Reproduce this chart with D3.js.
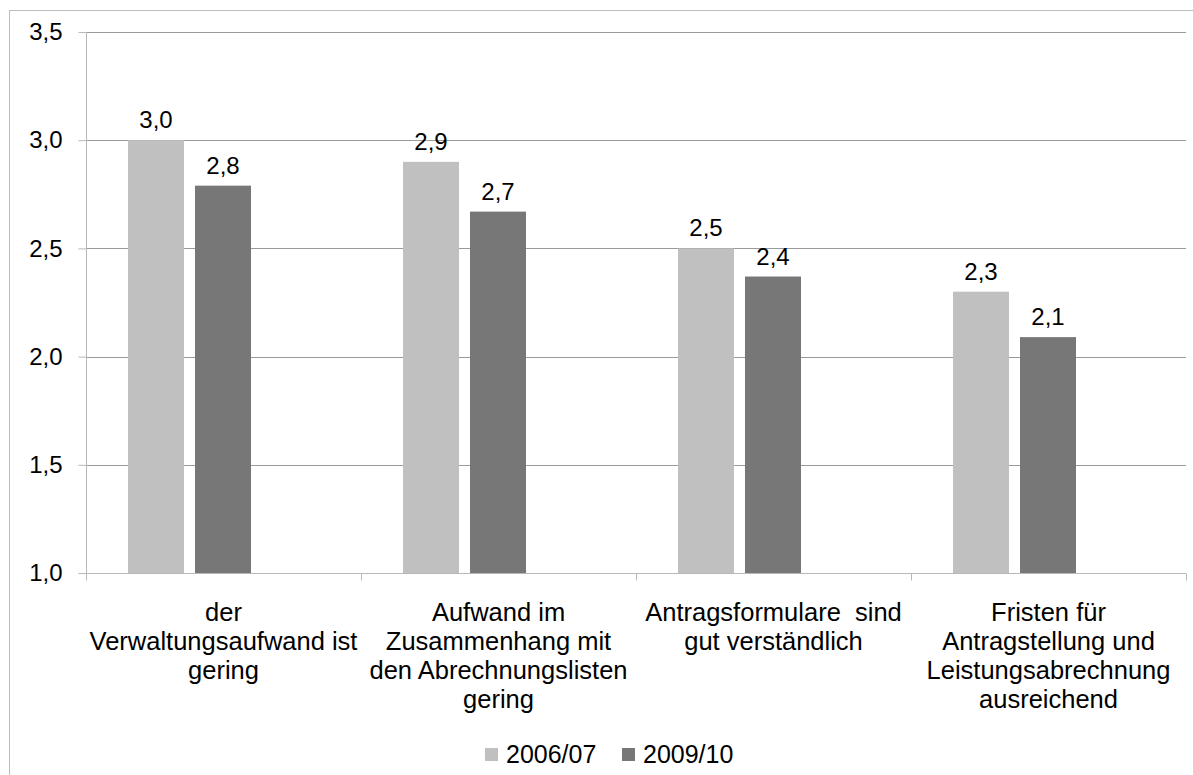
<!DOCTYPE html>
<html>
<head>
<meta charset="utf-8">
<script src="https://cdn.jsdelivr.net/npm/d3@7"></script>
<style>
  body { margin: 0; background: #fff; }
  svg { font-family: "Liberation Sans", Arial, sans-serif; }
</style>
</head>
<body>
<div id="chart"></div>
<script>
// chart data
var categories = ["cat1", "cat2", "cat3", "cat4"];
var categoryLines = [
    ["der", "Verwaltungsaufwand ist", "gering"],
    ["Aufwand im", "Zusammenhang mit", "den Abrechnungslisten", "gering"],
    ["Antragsformulare  sind", "gut verständlich"],
    ["Fristen für", "Antragstellung und", "Leistungsabrechnung", "ausreichend"]
];
var seriesNames = ["2006/07", "2009/10"];
var values2006 = [3.00, 2.90, 2.50, 2.30];
var values2009 = [2.79, 2.67, 2.37, 2.09];
var yTicks = [1.0, 1.5, 2.0, 2.5, 3.0, 3.5];
var colors = ["#c0c0c0", "#777777"];

var width = 1193, height = 775;
var margin = {top: 32, right: 7, bottom: 202, left: 86};
var plotW = width - margin.left - margin.right;
var plotH = height - margin.top - margin.bottom;

var svg = d3.select("#chart").append("svg")
    .attr("width", width)
    .attr("height", height);

// outer frame
svg.append("rect")
    .attr("x", 9.5).attr("y", 10.5)
    .attr("width", width + 10).attr("height", height + 10)
    .attr("fill", "none")
    .attr("stroke", "#bdbdbd");

var g = svg.append("g")
    .attr("transform", "translate(" + margin.left + "," + margin.top + ")");

var x = d3.scaleBand().domain(categories).range([0, plotW]).padding(0);
// three slots per group as in the source, the last one stays empty
var x1 = d3.scaleBand().domain(seriesNames.concat(["_"]))
    .range([42, x.bandwidth() - 43])
    .paddingInner(0.164).paddingOuter(0);
var y = d3.scaleLinear().domain([1, 3.5]).range([plotH, 0]);

var fmt = function(v) { return d3.format(".1f")(v).replace(".", ","); };

// gridlines
g.append("g").selectAll("line")
    .data(yTicks.slice(1))
    .join("line")
    .attr("x1", 0).attr("x2", plotW)
    .attr("y1", d => Math.round(y(d)) + 0.5).attr("y2", d => Math.round(y(d)) + 0.5)
    .attr("stroke", "#9a9a9a");

// y axis
var yAxis = d3.axisLeft(y).tickValues(yTicks).tickSize(8).tickPadding(16).tickFormat(fmt);
var yg = g.append("g").attr("transform", "translate(0.5,0)").call(yAxis);
yg.select(".domain").attr("stroke", "#b8b8b8").attr("d", "M0," + plotH + "V0");
yg.selectAll(".tick line").attr("stroke", "#b8b8b8");
yg.selectAll(".tick text").attr("fill", "#000").style("font-size", "24px")
    .attr("font-family", "Liberation Sans, Arial, sans-serif");

// bars
var data = categories.map(function(c, i) {
    return {cat: c, vals: [{key: seriesNames[0], value: values2006[i]}, {key: seriesNames[1], value: values2009[i]}]};
});
var groups = g.append("g").selectAll("g")
    .data(data)
    .join("g")
    .attr("transform", d => "translate(" + x(d.cat) + ",0)");

groups.selectAll("rect")
    .data(d => d.vals)
    .join("rect")
    .attr("x", d => x1(d.key))
    .attr("y", d => y(d.value))
    .attr("width", x1.bandwidth())
    .attr("height", d => plotH - y(d.value))
    .attr("fill", (d, i) => colors[i]);

groups.selectAll("text.val")
    .data(d => d.vals)
    .join("text")
    .attr("class", "val")
    .attr("x", d => x1(d.key) + x1.bandwidth() / 2)
    .attr("y", d => y(d.value) - 12)
    .attr("text-anchor", "middle")
    .style("font-size", "24px")
    .text(d => fmt(d.value));

// x axis
var xAxis = d3.axisBottom(x).tickSize(0).tickFormat("");
var xg = g.append("g").attr("transform", "translate(0," + (plotH + 0.5) + ")").call(xAxis);
xg.select(".domain").attr("stroke", "#b8b8b8").attr("d", "M0,0H" + plotW);
xg.selectAll(".tick").remove();
xg.selectAll("line.sep")
    .data(d3.range(categories.length + 1))
    .join("line")
    .attr("class", "sep")
    .attr("x1", i => Math.round(i * x.step()) + 0.5)
    .attr("x2", i => Math.round(i * x.step()) + 0.5)
    .attr("y1", 0).attr("y2", 7)
    .attr("stroke", "#b8b8b8");

// category labels
var labels = g.append("g").selectAll("text")
    .data(categories)
    .join("text")
    .attr("text-anchor", "middle")
    .attr("xml:space", "preserve")
    .style("white-space", "pre")
    .style("font-size", "25.5px")
    .attr("transform", d => "translate(" + (x(d) + x.bandwidth() / 2) + "," + (plotH + 48) + ")");
labels.selectAll("tspan")
    .data((d, i) => categoryLines[i])
    .join("tspan")
    .attr("x", 0)
    .attr("y", (d, i) => i * 29)
    .text(d => d);

// legend
var legendX = [485, 622];
var legend = svg.append("g").selectAll("g")
    .data(seriesNames)
    .join("g")
    .attr("transform", (d, i) => "translate(" + legendX[i] + ",748)");
legend.append("rect")
    .attr("width", 13).attr("height", 13)
    .attr("fill", (d, i) => colors[i]);
legend.append("text")
    .attr("x", 21).attr("y", 15)
    .style("font-size", "25px")
    .text(d => d);
</script>
</body>
</html>
